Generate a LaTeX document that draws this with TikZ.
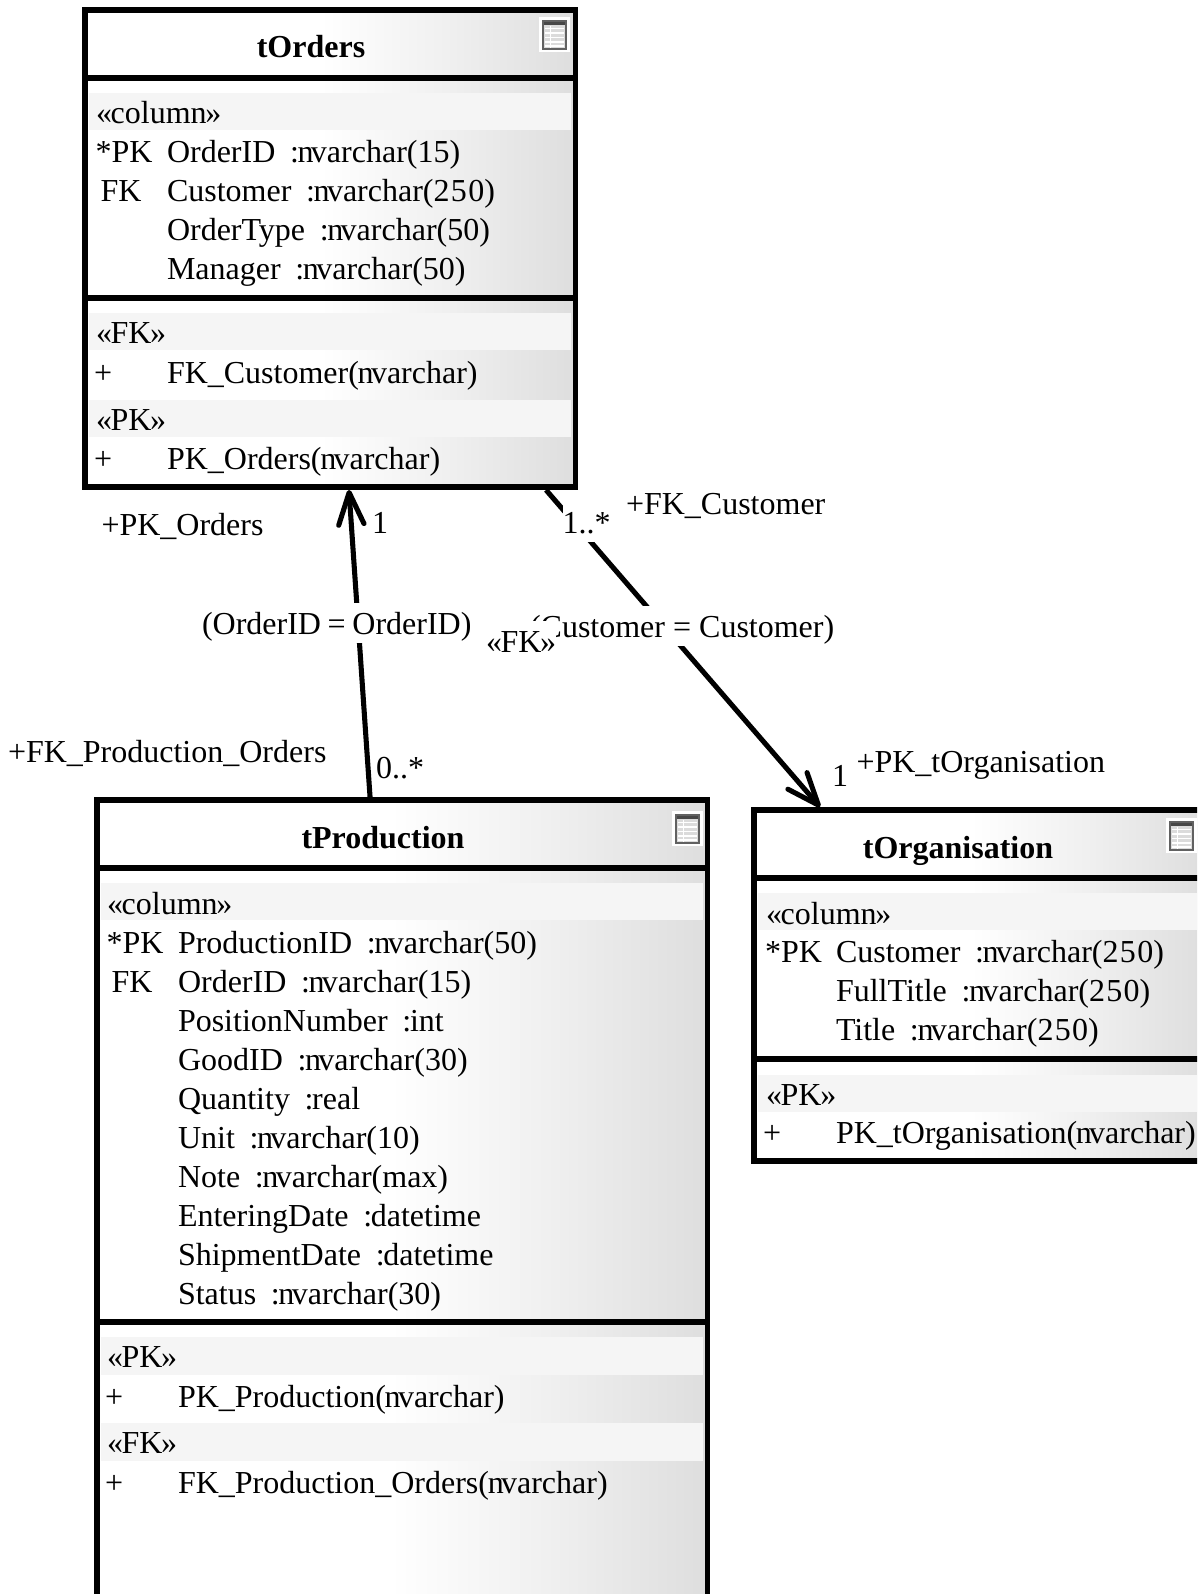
\documentclass[tikz,border=0pt]{standalone}
\usepackage{fontspec}
\setmainfont{Liberation Serif}
\usetikzlibrary{arrows.meta}
\pgfdeclarehorizontalshading{boxfade}{100bp}{color(0bp)=(white); color(25bp)=(white); color(49bp)=(white); color(62bp)=(black!6); color(75bp)=(black!13); color(100bp)=(black!13)}
\newcommand{\tblicon}[2]{%
  \begin{scope}[shift={(#1,#2)}]
    \fill[white] (-4,-4) rectangle (27,31);
    \fill[black!14] (0,0) rectangle (23,28);
    \fill[black!72] (0,0) rectangle (23,4);
    \foreach \yy in {7.5,12,16.5,21,25}{\draw[white,line width=1.1pt] (2,\yy) -- (21,\yy);}
    \draw[white,line width=0.8pt] (7.5,5) -- (7.5,27);
    \draw[black!62,line width=1.1pt] (0,0) rectangle (23,28);
  \end{scope}}
\newcommand{\gp}{\hspace*{5pt}}
\newcommand{\cl}{:\kern-1pt}
\newcommand{\nvc}{n\kern-2pt varchar}
\newcommand{\pnv}{(\kern-1pt\nvc)}
\newcommand{\tfz}{2\kern1pt 5\kern1pt 0}
\newcommand{\stereo}[1]{«\kern-1pt #1\kern-1pt»}
\tikzset{
  x=0.75pt,y=-0.75pt,
  box/.style={draw=black,line width=4.1pt,outer sep=0pt,inner sep=0pt,shade,shading=boxfade,shading angle=0},
  divider/.style={draw=black,line width=4.1pt},
  band/.style={fill=black!4},
  rowtext/.style={anchor=base west,inner sep=0pt,outer sep=0pt,text=black,font=\fontsize{24}{28}\selectfont},
  titletext/.style={anchor=base,inner sep=0pt,text=black,font=\bfseries\fontsize{24}{28}\selectfont},
  conlabel/.style={anchor=base west,inner sep=0pt,outer sep=0pt,fill=white,text=black,
    text height=23pt,text depth=6.75pt,font=\fontsize{24}{28}\selectfont},
  conn/.style={draw=black,line width=3.8pt,-{Straight Barb[length=24pt,width=19pt,round]}},
}
\begin{document}
\begin{tikzpicture}
\useasboundingbox (0,0) rectangle (1197,1594);
\clip (0,0) rectangle (1197,1594);
\fill[white] (0,0) rectangle (1197,1594);

% --- tOrders
\node[box,minimum width=367.95pt,minimum height=357.75pt] (tOrders) at (330.3,248.5) {};
\draw[divider] (85,78) -- (575.6,78);
\draw[divider] (85,298) -- (575.6,298);
\fill[band] (89,93) rectangle (571,130);
\fill[band] (89,313) rectangle (571,350);
\fill[band] (89,400) rectangle (571,437);
\tblicon{543}{21}
\node[titletext] (oTitle) at (311,58) {tOrders};
\node[rowtext] (oCol) at (96,124) {\stereo{column}};
\node[rowtext] (oK1) at (95.5,163) {*PK};
\node[rowtext] (oN1) at (167,163) {OrderID \gp\cl\nvc(15)};
\node[rowtext] (oK2) at (100.6,202) {FK};
\node[rowtext] (oN2) at (167,202) {Customer \gp\cl\nvc(\tfz)};
\node[rowtext] (oN3) at (167,241) {OrderType \gp\cl\nvc(50)};
\node[rowtext] (oN4) at (167,280) {Manager \gp\cl\nvc(50)};
\node[rowtext] (oFK) at (96,344) {\stereo{FK}};
\node[rowtext] (oP1) at (94,383) {+};
\node[rowtext] (oM1) at (167,383) {FK\_Customer\pnv};
\node[rowtext] (oPK) at (96,430) {\stereo{PK}};
\node[rowtext] (oP2) at (94,469) {+};
\node[rowtext] (oM2) at (167,469) {PK\_Orders\pnv};

% --- tProduction
\node[box,minimum width=457.9pt,minimum height=637.5pt] (tProduction) at (402.25,1225) {};
\draw[divider] (97,868) -- (707.5,868);
\draw[divider] (97,1322) -- (707.5,1322);
\fill[band] (101,883) rectangle (703,920);
\fill[band] (101,1337) rectangle (703,1375);
\fill[band] (101,1423) rectangle (703,1461);
\tblicon{676}{815}
\node[titletext] (pTitle) at (383,848) {tProduction};
\node[rowtext] (pCol) at (107,914) {\stereo{column}};
\node[rowtext] (pK1) at (106.5,953) {*PK};
\node[rowtext] (pN1) at (178,953) {ProductionID \gp\cl\nvc(50)};
\node[rowtext] (pK2) at (111.6,992) {FK};
\node[rowtext] (pN2) at (178,992) {OrderID \gp\cl\nvc(15)};
\node[rowtext] (pN3) at (178,1031) {PositionNumber \gp\cl int};
\node[rowtext] (pN4) at (178,1070) {GoodID \gp\cl\nvc(30)};
\node[rowtext] (pN5) at (178,1109) {Quantity \gp\cl real};
\node[rowtext] (pN6) at (178,1148) {Unit \gp\cl\nvc(10)};
\node[rowtext] (pN7) at (178,1187) {Note \gp\cl\nvc(max)};
\node[rowtext] (pN8) at (178,1226) {EnteringDate \gp\cl datetime};
\node[rowtext] (pN9) at (178,1265) {ShipmentDate \gp\cl datetime};
\node[rowtext] (pN10) at (178,1304) {Status \gp\cl\nvc(30)};
\node[rowtext] (pPK) at (107,1367) {\stereo{PK}};
\node[rowtext] (pP1) at (105,1407) {+};
\node[rowtext] (pM1) at (178,1407) {PK\_Production\pnv};
\node[rowtext] (pFK) at (107,1453) {\stereo{FK}};
\node[rowtext] (pP2) at (105,1493) {+};
\node[rowtext] (pM2) at (178,1493) {FK\_Production\_Orders\pnv};

% --- tOrganisation
\node[box,minimum width=338.25pt,minimum height=263.25pt] (tOrganisation) at (979.5,985.5) {};
\draw[divider] (754,878) -- (1205,878);
\draw[divider] (754,1059) -- (1205,1059);
\fill[band] (758,893) rectangle (1197,930);
\fill[band] (758,1075) rectangle (1197,1112);
\tblicon{1170}{822}
\node[titletext] (gTitle) at (958,858) {tOrganisation};
\node[rowtext] (gCol) at (766,924) {\stereo{column}};
\node[rowtext] (gK1) at (765,962) {*PK};
\node[rowtext] (gN1) at (836,962) {Customer \gp\cl\nvc(\tfz)};
\node[rowtext] (gN2) at (836,1001) {FullTitle \gp\cl\nvc(\tfz)};
\node[rowtext] (gN3) at (836,1040) {Title \gp\cl\nvc(\tfz)};
\node[rowtext] (gPK) at (766,1105) {\stereo{PK}};
\node[rowtext] (gP1) at (763,1143) {+};
\node[rowtext] (gM1) at (836,1143) {PK\_tOrganisation\pnv};

% --- connectors
\draw[conn] ([xshift=-24pt]tProduction.north) -- ([xshift=14pt,yshift=-2.25pt]tOrders.south);
\draw[conn] ([xshift=161.8pt,yshift=-2.25pt]tOrders.south) -- ([xshift=-119.6pt,yshift=2.25pt]tOrganisation.north);

% --- connector labels
\node[conlabel] (lPKO) at (101.5,535) {+PK\_Orders};
\node[conlabel] (lOne) at (372,533) {1};
\node[conlabel] (lMany) at (562.5,533) {1..*};
\node[conlabel] (lFKC) at (626,514) {+FK\_Customer};
\node[conlabel] (lOID) at (202,634) {(OrderID\kern-1pt\ =\kern-1pt\ OrderID)};
\node[conlabel] (lCust) at (530,637) {(Customer = Customer)};
\node[conlabel] (lFK) at (486,652) {\stereo{FK}};
\node[conlabel] (lFKP) at (8,762) {+FK\_Production\_Orders};
\node[conlabel] (lZero) at (376,778) {0..*};
\node[conlabel] (lOneB) at (832,786) {1};
\node[conlabel] (lPKG) at (856.5,772) {+PK\_tOrganisation};
\end{tikzpicture}
\end{document}
